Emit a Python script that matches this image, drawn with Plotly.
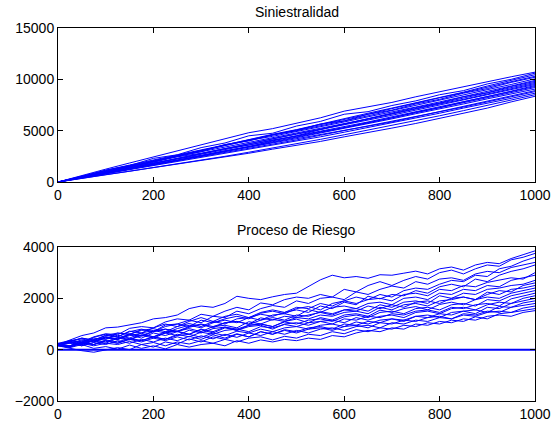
import plotly.graph_objects as go

# ---- Data (approximate) ----
# Top panel "Siniestralidad": cumulative claims, sampled every 50 time units (t = 0..1000)
T_TOP = list(range(0, 1001, 50))
claims_paths = [
    [0, 650, 1250, 1850, 2450, 3000, 3600, 4200, 4800, 5200, 5700, 6250, 6900, 7300, 7750, 8300, 8800, 9250, 9750, 10250, 10700],
    [0, 500, 1150, 1600, 2300, 2650, 3350, 3800, 4500, 4750, 5450, 5900, 6600, 6850, 7450, 7900, 8500, 8900, 9550, 10000, 10600],
    [0, 500, 1000, 1550, 2050, 2500, 3050, 3600, 4150, 4650, 5100, 5650, 6200, 6700, 7200, 7700, 8250, 8750, 9350, 9900, 10450],
    [0, 480, 950, 1450, 2000, 2550, 3050, 3550, 4050, 4600, 5050, 5550, 6100, 6600, 7150, 7700, 8200, 8700, 9250, 9750, 10300],
    [0, 450, 900, 1500, 1900, 2550, 2950, 3650, 4000, 4600, 5000, 5650, 5950, 6600, 7000, 7600, 8050, 8650, 9100, 9700, 10200],
    [0, 600, 1150, 1650, 2150, 2650, 3150, 3650, 4150, 4600, 5000, 5450, 5950, 6450, 6950, 7450, 7950, 8450, 9000, 9500, 10050],
    [0, 580, 1100, 1600, 2100, 2550, 3050, 3550, 4050, 4450, 4900, 5350, 5850, 6350, 6800, 7300, 7800, 8300, 8850, 9350, 9900],
    [0, 380, 800, 1250, 1650, 2100, 2550, 3000, 3450, 4000, 4500, 5100, 5650, 6200, 6700, 7250, 7700, 8300, 8700, 9300, 9800],
    [0, 520, 1050, 1500, 2000, 2500, 2950, 3400, 3850, 4350, 4800, 5250, 5700, 6150, 6650, 7150, 7650, 8150, 8650, 9200, 9700],
    [0, 420, 880, 1350, 1850, 2300, 2750, 3250, 3750, 4200, 4700, 5150, 5650, 6150, 6600, 7100, 7600, 8050, 8550, 9050, 9600],
    [0, 480, 920, 1380, 1820, 2300, 2800, 3300, 3750, 4200, 4650, 5100, 5550, 6000, 6500, 7000, 7500, 8000, 8500, 9000, 9500],
    [0, 550, 1050, 1550, 1950, 2450, 2800, 3250, 3600, 4100, 4450, 4900, 5300, 5800, 6250, 6800, 7250, 7800, 8300, 8850, 9400],
    [0, 500, 950, 1400, 1800, 2250, 2700, 3150, 3600, 4050, 4450, 4900, 5350, 5850, 6350, 6850, 7350, 7850, 8300, 8800, 9300],
    [0, 400, 850, 1300, 1750, 2150, 2550, 3000, 3450, 3900, 4350, 4800, 5250, 5750, 6250, 6750, 7250, 7750, 8250, 8700, 9200],
    [0, 450, 880, 1280, 1700, 2100, 2500, 2950, 3400, 3850, 4300, 4750, 5200, 5650, 6150, 6650, 7100, 7600, 8100, 8550, 9050],
    [0, 480, 950, 1400, 1800, 2250, 2600, 3050, 3400, 3800, 4200, 4600, 5000, 5400, 5850, 6350, 6850, 7400, 7900, 8400, 8900],
    [0, 450, 850, 1250, 1650, 2050, 2450, 2850, 3250, 3650, 4100, 4550, 5000, 5450, 5900, 6350, 6800, 7300, 7800, 8300, 8800],
    [0, 400, 800, 1200, 1580, 1950, 2350, 2750, 3150, 3550, 4000, 4400, 4850, 5300, 5750, 6200, 6700, 7200, 7650, 8150, 8650],
    [0, 380, 720, 1050, 1400, 1750, 2150, 2500, 2900, 3300, 3700, 4150, 4600, 5050, 5500, 6000, 6450, 6950, 7450, 7950, 8500],
    [0, 350, 700, 1000, 1350, 1700, 2050, 2400, 2800, 3200, 3550, 3950, 4400, 4800, 5250, 5700, 6200, 6700, 7200, 7800, 8350],
]

# Bottom panel "Proceso de Riesgo": surplus process, sampled every 25 time units (t = 0..1000)
T_BOT = list(range(0, 1001, 25))
risk_paths = [
    [200, 380, 550, 650, 850, 880, 950, 1050, 1200, 1250, 1350, 1600, 1700, 1650, 1800, 2080, 2000, 1950, 2060, 2150, 2200, 2450, 2720, 2900, 2800, 2850, 2780, 2920, 2900, 2980, 3060, 2950, 3150, 3220, 3100, 3300, 3400, 3350, 3550, 3700, 3850],
    [180, 350, 300, 500, 620, 580, 830, 900, 850, 1080, 1200, 1150, 1380, 1300, 1500, 1650, 1550, 1820, 1750, 1950, 2050, 2000, 2150, 2050, 2350, 2250, 2500, 2650, 2500, 2700, 2850, 2750, 3000, 3100, 2950, 3150, 3300, 3250, 3500, 3600, 3750],
    [220, 300, 450, 380, 560, 500, 720, 650, 850, 1000, 900, 1100, 1250, 1100, 1300, 1380, 1250, 1450, 1550, 1450, 1650, 1600, 1800, 1700, 1900, 2050, 1950, 2150, 2050, 2300, 2400, 2350, 2550, 2700, 2650, 2900, 2850, 3150, 3250, 3450, 3600],
    [150, 300, 250, 450, 400, 640, 600, 780, 700, 960, 1000, 1150, 1050, 1300, 1250, 1500, 1400, 1600, 1720, 1650, 1900, 1800, 2000, 2050, 1950, 2250, 2150, 2350, 2480, 2400, 2650, 2550, 2750, 2800, 2700, 2950, 3050, 3000, 3200, 3300, 3400],
    [200, 250, 380, 300, 450, 560, 450, 650, 750, 650, 820, 950, 850, 1050, 1150, 1050, 1250, 1380, 1300, 1450, 1550, 1450, 1700, 1600, 1850, 1750, 2080, 1980, 2150, 2100, 2300, 2200, 2450, 2550, 2450, 2750, 2650, 2900, 3050, 3150, 3300],
    [170, 350, 280, 480, 600, 500, 700, 800, 700, 900, 1000, 900, 1150, 1050, 1200, 1300, 1200, 1420, 1500, 1400, 1600, 1680, 1550, 1800, 1900, 1800, 1950, 2000, 1900, 2150, 2200, 2100, 2350, 2300, 2500, 2450, 2620, 2700, 2800, 2750, 3000],
    [210, 320, 450, 350, 550, 650, 600, 750, 820, 700, 900, 1020, 900, 1100, 1000, 1200, 1250, 1150, 1350, 1400, 1300, 1560, 1450, 1650, 1700, 1600, 1800, 1850, 1750, 2000, 2050, 1950, 2200, 2150, 2350, 2300, 2500, 2450, 2700, 2800, 2900],
    [190, 150, 350, 300, 500, 430, 620, 550, 720, 800, 700, 870, 980, 850, 1050, 1100, 980, 1150, 1250, 1150, 1350, 1300, 1480, 1400, 1550, 1600, 1500, 1750, 1650, 1850, 1900, 1800, 2100, 2000, 2200, 2150, 2350, 2400, 2500, 2550, 2700],
    [160, 300, 200, 350, 450, 400, 550, 640, 500, 700, 720, 820, 700, 900, 950, 850, 1090, 1000, 1180, 1100, 1250, 1200, 1350, 1300, 1450, 1500, 1400, 1650, 1550, 1750, 1800, 1700, 1900, 1950, 2050, 1950, 2150, 2300, 2250, 2500, 2600],
    [230, 300, 200, 400, 480, 400, 600, 520, 700, 800, 720, 900, 1000, 900, 1050, 1100, 1000, 1240, 1150, 1300, 1250, 1350, 1450, 1350, 1550, 1500, 1700, 1600, 1750, 1650, 1850, 1900, 1800, 2000, 2050, 1950, 2240, 2150, 2350, 2400, 2500],
    [180, 120, 280, 350, 250, 450, 380, 560, 450, 650, 550, 760, 650, 820, 880, 750, 950, 1000, 900, 1100, 1190, 1050, 1250, 1150, 1350, 1400, 1300, 1540, 1450, 1600, 1680, 1550, 1760, 1850, 1750, 1950, 2050, 2000, 2200, 2300, 2400],
    [200, 280, 150, 380, 300, 480, 400, 580, 500, 650, 720, 600, 800, 700, 880, 800, 950, 1000, 900, 1080, 1000, 1150, 1200, 1100, 1280, 1350, 1250, 1450, 1500, 1400, 1600, 1650, 1550, 1750, 1800, 1700, 1950, 1900, 2100, 2200, 2300],
    [150, 100, 250, 200, 350, 250, 420, 350, 500, 400, 600, 500, 680, 600, 750, 800, 700, 900, 850, 980, 900, 1050, 1100, 1000, 1200, 1150, 1300, 1250, 1400, 1350, 1500, 1550, 1450, 1650, 1600, 1750, 1800, 1700, 1980, 2100, 2200],
    [250, 350, 420, 300, 500, 400, 580, 450, 650, 550, 700, 600, 780, 650, 850, 750, 900, 950, 800, 1000, 1050, 950, 1100, 1150, 1050, 1250, 1150, 1300, 1350, 1250, 1450, 1500, 1400, 1600, 1650, 1550, 1750, 1850, 1800, 2000, 2100],
    [150, 60, -40, -100, -20, 80, 0, 200, 100, 300, 220, 420, 300, 500, 400, 600, 500, 700, 600, 780, 700, 850, 900, 800, 1000, 950, 1100, 1050, 1200, 1150, 1300, 1350, 1250, 1450, 1500, 1400, 1650, 1600, 1800, 1900, 2000],
    [200, 150, 300, 200, 380, 300, 450, 350, 500, 400, 550, 600, 480, 650, 550, 720, 650, 800, 700, 850, 900, 800, 950, 1000, 900, 1080, 1000, 1150, 1200, 1100, 1300, 1250, 1400, 1350, 1500, 1550, 1450, 1680, 1650, 1820, 1900],
    [170, 250, 150, 280, 200, 350, 250, 400, 300, 450, 350, 520, 400, 580, 450, 620, 500, 700, 600, 750, 650, 800, 850, 750, 900, 950, 850, 1050, 1000, 1150, 1100, 1250, 1300, 1200, 1400, 1350, 1500, 1450, 1650, 1720, 1800],
    [220, 150, 300, 200, 350, 250, 400, 300, 450, 350, 500, 380, 540, 420, 600, 480, 650, 550, 700, 600, 750, 650, 800, 850, 750, 900, 950, 850, 1050, 1000, 1150, 1100, 1250, 1200, 1350, 1300, 1450, 1500, 1450, 1620, 1700],
    [180, 100, 250, 150, 250, 200, 320, 200, 280, 150, 300, 220, 350, 250, 400, 300, 450, 500, 380, 520, 450, 600, 550, 700, 620, 780, 700, 850, 800, 950, 900, 1050, 1000, 1150, 1100, 1280, 1200, 1400, 1450, 1520, 1600],
    [160, 80, 200, 50, 120, 20, 180, 50, 150, 30, 200, 100, 200, 250, 150, 350, 250, 380, 300, 400, 350, 450, 400, 550, 500, 650, 750, 700, 850, 800, 1000, 950, 1100, 1050, 1200, 1150, 1300, 1350, 1300, 1450, 1520],
]
RUIN_T = [0, 1000]
RUIN_LEVEL = [0, 0]

TITLES = ["Siniestralidad", "Proceso de Riesgo"]
X_TICKS = [0, 200, 400, 600, 800, 1000]
X_TICK_TEXT = ["0", "200", "400", "600", "800", "1000"]
Y_TICKS_TOP = [0, 5000, 10000, 15000]
Y_TICK_TEXT_TOP = ["0", "5000", "10000", "15000"]
Y_TICKS_BOT = [-2000, 0, 2000, 4000]
Y_TICK_TEXT_BOT = ["\u22122000", "0", "2000", "4000"]

BLUE = "rgb(0,0,255)"
FONT = "Liberation Sans, Arial, Helvetica, sans-serif"

fig = go.Figure()

for p in claims_paths:
    fig.add_trace(go.Scatter(x=T_TOP[:len(p)], y=p, mode="lines",
                             line=dict(color=BLUE, width=1), xaxis="x", yaxis="y",
                             showlegend=False, hoverinfo="skip"))
for p in risk_paths:
    fig.add_trace(go.Scatter(x=T_BOT[:len(p)], y=p, mode="lines",
                             line=dict(color=BLUE, width=1), xaxis="x2", yaxis="y2",
                             showlegend=False, hoverinfo="skip"))
fig.add_trace(go.Scatter(x=RUIN_T, y=RUIN_LEVEL, mode="lines",
                         line=dict(color=BLUE, width=2), xaxis="x2", yaxis="y2",
                         showlegend=False, hoverinfo="skip"))

W, H = 552, 425
ml, mr, mt, mb = 58, 17, 28, 24
ph = H - mt - mb
def frac(ypx):
    return (H - mb - ypx) / ph

top_dom = [frac(182), 1.0]
bot_dom = [0.0, frac(247)]

axis_common = dict(showline=True, linecolor="black", linewidth=1, mirror="allticks",
                   ticks="inside", ticklen=5, tickwidth=1, tickcolor="black",
                   showgrid=False, zeroline=False, automargin=False,
                   tickfont=dict(family=FONT, size=14, color="black"))

fig.update_layout(
    width=W, height=H,
    margin=dict(l=ml, r=mr, t=mt, b=mb, autoexpand=False),
    paper_bgcolor="white", plot_bgcolor="white",
    xaxis=dict(domain=[0, 1], range=[0, 1000], tickvals=X_TICKS, ticktext=X_TICK_TEXT, anchor="y", **axis_common),
    yaxis=dict(domain=top_dom, range=[0, 15000], tickvals=Y_TICKS_TOP, ticktext=Y_TICK_TEXT_TOP, anchor="x", **axis_common),
    xaxis2=dict(domain=[0, 1], range=[0, 1000], tickvals=X_TICKS, ticktext=X_TICK_TEXT, anchor="y2", **axis_common),
    yaxis2=dict(domain=bot_dom, range=[-2000, 4000], tickvals=Y_TICKS_BOT, ticktext=Y_TICK_TEXT_BOT, anchor="x2", **axis_common),
    annotations=[
        dict(text=TITLES[0], x=0.5, y=frac(12), xref="paper", yref="paper",
             xanchor="center", yanchor="middle", showarrow=False,
             font=dict(family=FONT, size=14, color="black")),
        dict(text=TITLES[1], x=0.5, y=frac(230), xref="paper", yref="paper",
             xanchor="center", yanchor="middle", showarrow=False,
             font=dict(family=FONT, size=14, color="black")),
    ],
)

fig.write_html(
    "out.html",
    config={"displayModeBar": False},
    post_script="document.body.style.margin='0';document.body.style.overflow='hidden';",
)
